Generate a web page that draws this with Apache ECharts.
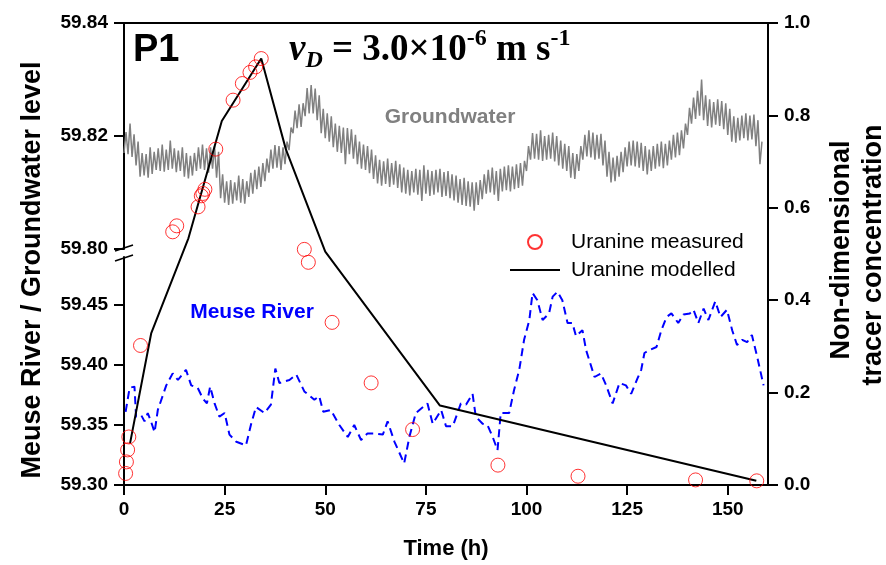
<!DOCTYPE html>
<html><head><meta charset="utf-8">
<script src="https://cdn.jsdelivr.net/npm/echarts@6/dist/echarts.min.js"></script>
<style>html,body{margin:0;padding:0;background:#fff}#c{width:886px;height:565px}</style>
</head><body><div id="c"></div>
<script>
// ---------- tick labels ----------
const xTicks = [0, 25, 50, 75, 100, 125, 150];
const gwTicks = [59.80, 59.82, 59.84];
const riverTicks = [59.30, 59.35, 59.40, 59.45];
const concTicks = [0, 0.2, 0.4, 0.6, 0.8, 1.0];

// ---------- Uranine measured (h, non-dimensional) ----------
const measuredTime = [0.4, 0.6, 0.9, 1.2, 4.1, 12.1, 13.1, 18.4, 19.2, 19.6, 20.1, 22.8, 27.1, 29.4, 31.3, 32.7, 34.1, 44.8, 45.8, 51.7, 61.4, 71.7, 92.9, 112.8, 142.0, 157.2];
const measuredConc = [0.025, 0.050, 0.076, 0.104, 0.302, 0.548, 0.561, 0.602, 0.626, 0.631, 0.640, 0.727, 0.833, 0.869, 0.893, 0.905, 0.923, 0.510, 0.482, 0.352, 0.221, 0.120, 0.043, 0.019, 0.011, 0.009];

// ---------- Uranine modelled ----------
const modelTime = [1.5, 6.75, 16.0, 24.3, 34.1, 40.2, 50.0, 78.5, 157.1];
const modelConc = [0.09, 0.328, 0.534, 0.788, 0.923, 0.727, 0.505, 0.172, 0.009];

// ---------- Meuse River level (m) ----------
const riverTime = [0.4,1.4,2.6,3.0,4.3,5.1,5.9,6.7,7.6,8.4,10.5,12.1,13.4,15.4,16.7,18.3,19.6,20.6,21.4,22.5,23.7,25.0,26.2,27.9,30.3,31.6,32.8,34.9,36.5,37.6,38.6,41.1,42.8,44.8,47.3,48.5,49.5,51.4,53.5,55.6,57.2,58.9,60.5,62.2,64.3,65.5,67.2,69.6,70.9,72.5,75.4,76.7,78.8,80.0,81.7,83.7,85.0,86.6,87.4,89.1,90.3,91.6,92.8,93.6,95.7,96.9,98.2,99.4,100.7,101.5,102.7,104.0,105.6,106.5,107.7,108.9,110.2,111.4,112.3,113.9,114.8,116.9,118.5,119.8,121.4,123.1,124.7,126.0,127.6,128.5,129.3,130.6,132.3,133.5,134.8,136.0,137.7,139.0,140.6,141.5,142.7,144.0,145.2,146.9,148.2,149.8,151.1,152.3,153.6,154.8,156.0,157.3,158.9];
const riverLevel = [59.361,59.381,59.382,59.357,59.358,59.353,59.360,59.353,59.344,59.3625,59.383,59.393,59.3875,59.396,59.383,59.381,59.372,59.368,59.382,59.368,59.357,59.360,59.342,59.336,59.333,59.351,59.365,59.360,59.367,59.397,59.385,59.3875,59.392,59.378,59.371,59.374,59.361,59.3625,59.350,59.340,59.350,59.3375,59.343,59.343,59.342,59.353,59.336,59.318,59.340,59.360,59.368,59.351,59.3625,59.349,59.349,59.368,59.367,59.376,59.357,59.351,59.350,59.340,59.329,59.360,59.360,59.379,59.396,59.421,59.4375,59.460,59.454,59.4375,59.443,59.457,59.461,59.454,59.435,59.435,59.424,59.429,59.4125,59.390,59.393,59.383,59.368,59.385,59.383,59.376,59.389,59.396,59.410,59.4125,59.415,59.429,59.440,59.443,59.435,59.442,59.443,59.446,59.435,59.447,59.4375,59.453,59.440,59.446,59.429,59.4167,59.421,59.419,59.425,59.407,59.383];

// ---------- Groundwater level (m): hourly lower / upper envelope of the noisy trace ----------
const gwLow = [59.8170,59.8168,59.8163,59.8148,59.8128,59.8130,59.8126,59.8133,59.8140,59.8138,
59.8137,59.8140,59.8142,59.8136,59.8138,59.8128,59.8125,59.8130,59.8138,59.8142,
59.8140,59.8135,59.8142,59.8126,59.8090,59.8082,59.8078,59.8080,59.8086,59.8082,
59.8080,59.8092,59.8098,59.8106,59.8110,59.8120,59.8135,59.8142,59.8144,59.8140,
59.8150,59.8175,59.8205,59.8214,59.8216,59.8235,59.8240,59.8240,59.8228,59.8205,
59.8196,59.8190,59.8180,59.8172,59.8170,59.8150,59.8168,59.8160,59.8150,59.8142,
59.8140,59.8134,59.8124,59.8116,59.8112,59.8115,59.8110,59.8114,59.8108,59.8100,
59.8098,59.8095,59.8100,59.8096,59.8085,59.8098,59.8094,59.8096,59.8100,59.8092,
59.8094,59.8090,59.8086,59.8082,59.8078,59.8076,59.8075,59.8068,59.8078,59.8088,
59.8098,59.8100,59.8096,59.8085,59.8102,59.8104,59.8102,59.8106,59.8108,59.8112,
59.8138,59.8158,59.8160,59.8158,59.8156,59.8158,59.8160,59.8155,59.8148,59.8142,
59.8138,59.8126,59.8124,59.8138,59.8158,59.8164,59.8162,59.8158,59.8160,59.8148,
59.8128,59.8118,59.8120,59.8128,59.8136,59.8146,59.8148,59.8146,59.8144,59.8138,
59.8132,59.8138,59.8142,59.8146,59.8143,59.8148,59.8158,59.8162,59.8166,59.8178,
59.8202,59.8222,59.8230,59.8236,59.8228,59.8218,59.8215,59.8220,59.8218,59.8212,
59.8202,59.8190,59.8188,59.8192,59.8196,59.8192,59.8194,59.8182,59.8150];
const gwHigh = [59.8207,59.8222,59.8203,59.8190,59.8170,59.8168,59.8180,59.8172,59.8178,59.8185,
59.8176,59.8192,59.8178,59.8174,59.8180,59.8170,59.8165,59.8170,59.8180,59.8185,
59.8178,59.8180,59.8182,59.8172,59.8132,59.8120,59.8122,59.8118,59.8130,59.8124,
59.8120,59.8135,59.8140,59.8146,59.8152,59.8160,59.8176,59.8184,59.8182,59.8180,
59.8190,59.8215,59.8245,59.8256,59.8258,59.8285,59.8290,59.8284,59.8272,59.8248,
59.8240,59.8235,59.8222,59.8218,59.8215,59.8214,59.8212,59.8202,59.8190,59.8185,
59.8182,59.8176,59.8166,59.8158,59.8155,59.8160,59.8152,59.8156,59.8150,59.8144,
59.8140,59.8138,59.8142,59.8140,59.8148,59.8140,59.8138,59.8140,59.8142,59.8136,
59.8138,59.8132,59.8130,59.8124,59.8126,59.8120,59.8118,59.8118,59.8122,59.8132,
59.8140,59.8144,59.8138,59.8142,59.8146,59.8148,59.8146,59.8150,59.8152,59.8156,
59.8182,59.8205,59.8204,59.8210,59.8200,59.8202,59.8206,59.8200,59.8192,59.8186,
59.8182,59.8170,59.8168,59.8182,59.8202,59.8210,59.8206,59.8202,59.8204,59.8192,
59.8172,59.8162,59.8165,59.8172,59.8180,59.8190,59.8192,59.8190,59.8188,59.8182,
59.8176,59.8182,59.8186,59.8190,59.8186,59.8192,59.8202,59.8206,59.8210,59.8222,
59.8250,59.8268,59.8280,59.8300,59.8272,59.8265,59.8260,59.8265,59.8262,59.8258,
59.8248,59.8235,59.8232,59.8236,59.8240,59.8236,59.8238,59.8228,59.8190];

// ---------- build series data ----------
const pair = (xs, ys) => xs.map((x, i) => [x, ys[i]]);
const gwData = [];
for (let i = 0; i < gwLow.length; i++) {
  gwData.push([i, gwLow[i]]);
  gwData.push([i + 0.5, gwHigh[i]]);
}

// ---------- layout ----------
const L = 124, R = 118, TOP = 23, BOT = 80;
const upperH = 226;          // 59.80 .. 59.84
const lowerTop = 257;        // start of lower (river) segment
const FONT = 'Liberation Sans, Arial, sans-serif';
const axisLineStyle = { color: '#000', width: 2 };
const tickStyle = { show: true, inside: false, length: 10, lineStyle: { color: '#000', width: 2 } };
const lblStyle = { color: '#000', fontFamily: FONT, fontWeight: 'bold', fontSize: 19 };

const chart = echarts.init(document.getElementById('c'), null, { renderer: 'canvas' });
chart.setOption({
  animation: false,
  backgroundColor: '#fff',
  grid: [
    { left: L, right: R, top: TOP, bottom: BOT },
    { left: L, right: R, top: TOP, height: upperH },
    { left: L, right: R, top: lowerTop, bottom: BOT }
  ],
  xAxis: [
    { gridIndex: 0, type: 'value', min: 0, max: 160, position: 'bottom',
      axisLine: { show: true, onZero: false, lineStyle: axisLineStyle },
      axisTick: Object.assign({ customValues: xTicks }, tickStyle),
      axisLabel: Object.assign({ customValues: xTicks, margin: 15 }, lblStyle),
      splitLine: { show: false },
      name: 'Time (h)', nameLocation: 'middle', nameGap: 53,
      nameTextStyle: { color: '#000', fontFamily: FONT, fontWeight: 'bold', fontSize: 22 } },
    { gridIndex: 0, type: 'value', min: 0, max: 160, position: 'top',
      axisLine: { show: true, onZero: false, lineStyle: axisLineStyle },
      axisTick: { show: false }, axisLabel: { show: false }, splitLine: { show: false } },
    { gridIndex: 1, type: 'value', min: 0, max: 160, show: false },
    { gridIndex: 2, type: 'value', min: 0, max: 160, show: false }
  ],
  yAxis: [
    { gridIndex: 0, type: 'value', min: 0, max: 1, interval: 0.2, position: 'right',
      axisLine: { show: true, onZero: false, lineStyle: axisLineStyle },
      axisTick: Object.assign({ customValues: concTicks }, tickStyle),
      axisLabel: Object.assign({ customValues: concTicks, margin: 16, formatter: v => v.toFixed(1) }, lblStyle),
      splitLine: { show: false } },
    { gridIndex: 1, type: 'value', min: 59.80, max: 59.84, position: 'left',
      axisLine: { show: true, onZero: false, lineStyle: axisLineStyle },
      axisTick: Object.assign({ customValues: gwTicks }, tickStyle),
      axisLabel: Object.assign({ customValues: gwTicks, margin: 16, formatter: v => v.toFixed(2) }, lblStyle),
      splitLine: { show: false } },
    { gridIndex: 2, type: 'value', min: 59.30, max: 59.49, position: 'left',
      axisLine: { show: true, onZero: false, lineStyle: axisLineStyle },
      axisTick: Object.assign({ customValues: riverTicks }, tickStyle),
      axisLabel: Object.assign({ customValues: riverTicks, margin: 16, formatter: v => v.toFixed(2) }, lblStyle),
      splitLine: { show: false } }
  ],
  legend: {
    orient: 'vertical', left: 505, top: 225, itemWidth: 50, itemHeight: 14, itemGap: 4,
    data: [
      { name: 'Uranine measured' },
      { name: 'Uranine modelled', icon: 'path://M0,0 L50,0 L50,2 L0,2 Z' }
    ],
    textStyle: { color: '#000', fontFamily: FONT, fontSize: 21, lineHeight: 24, padding: [0, 0, 0, 6] }
  },
  series: [
    { name: 'Groundwater', type: 'line', xAxisIndex: 2, yAxisIndex: 1, data: gwData,
      symbol: 'none', silent: true, lineStyle: { color: '#808080', width: 1.5 }, z: 1 },
    { name: 'Meuse River', type: 'line', xAxisIndex: 3, yAxisIndex: 2, data: pair(riverTime, riverLevel),
      symbol: 'none', silent: true, lineStyle: { color: '#0000ff', width: 2, type: [8, 5] }, z: 2 },
    { name: 'Uranine modelled', type: 'line', xAxisIndex: 0, yAxisIndex: 0, data: pair(modelTime, modelConc),
      symbol: 'none', lineStyle: { color: '#000', width: 2 }, itemStyle: { color: '#000' }, z: 3 },
    { name: 'Uranine measured', type: 'scatter', xAxisIndex: 0, yAxisIndex: 0, data: pair(measuredTime, measuredConc),
      symbol: 'circle', symbolSize: 14,
      itemStyle: { color: 'rgba(255,255,255,0)', borderColor: '#ff0000', borderWidth: 1 }, z: 4 }
  ],
  graphic: [
    // axis-break marks on the left axis
    { type: 'line', shape: { x1: L - 9, y1: TOP + upperH + 2, x2: L + 9, y2: TOP + upperH - 4 }, style: { stroke: '#000', lineWidth: 1.5 } },
    { type: 'line', shape: { x1: L - 9, y1: lowerTop + 4, x2: L + 9, y2: lowerTop - 2 }, style: { stroke: '#000', lineWidth: 1.5 } },
    { type: 'text', x: 133, y: 51, style: { text: 'P1', font: 'bold 38px ' + FONT, fill: '#000', verticalAlign: 'middle', align: 'left' } },
    { type: 'text', x: 289, y: 50, style: {
        text: '{v|v}{sub|D}{n| = 3.0×10}{sup|-6}{n| m s}{sup|-1}',
        verticalAlign: 'middle', align: 'left',
        rich: {
          v: { fontFamily: 'Liberation Serif', fontWeight: 'bold', fontStyle: 'italic', fontSize: 37, lineHeight: 46, verticalAlign: 'middle', fill: '#000' },
          sub: { fontFamily: 'Liberation Serif', fontWeight: 'bold', fontStyle: 'italic', fontSize: 24, lineHeight: 25, verticalAlign: 'bottom', fill: '#000' },
          n: { fontFamily: 'Liberation Serif', fontWeight: 'bold', fontSize: 37, lineHeight: 46, verticalAlign: 'middle', fill: '#000' },
          sup: { fontFamily: 'Liberation Serif', fontWeight: 'bold', fontSize: 24, lineHeight: 25, verticalAlign: 'top', fill: '#000' }
        } } },
    { type: 'text', x: 450, y: 117, style: { text: 'Groundwater', font: 'bold 21px ' + FONT, fill: '#808080', align: 'center', verticalAlign: 'middle' } },
    { type: 'text', x: 252, y: 312, style: { text: 'Meuse River', font: 'bold 21px ' + FONT, fill: '#0000ff', align: 'center', verticalAlign: 'middle' } },
    { type: 'text', x: 33, y: 270, rotation: Math.PI / 2, style: { text: 'Meuse River / Groundwater level', font: 'bold 27px ' + FONT, fill: '#000', align: 'center', verticalAlign: 'middle' } },
    { type: 'text', x: 842, y: 250, rotation: Math.PI / 2, style: { text: 'Non-dimensional', font: 'bold 27px ' + FONT, fill: '#000', align: 'center', verticalAlign: 'middle' } },
    { type: 'text', x: 874, y: 255, rotation: Math.PI / 2, style: { text: 'tracer concentration', font: 'bold 27px ' + FONT, fill: '#000', align: 'center', verticalAlign: 'middle' } }
  ]
});
</script></body></html>
